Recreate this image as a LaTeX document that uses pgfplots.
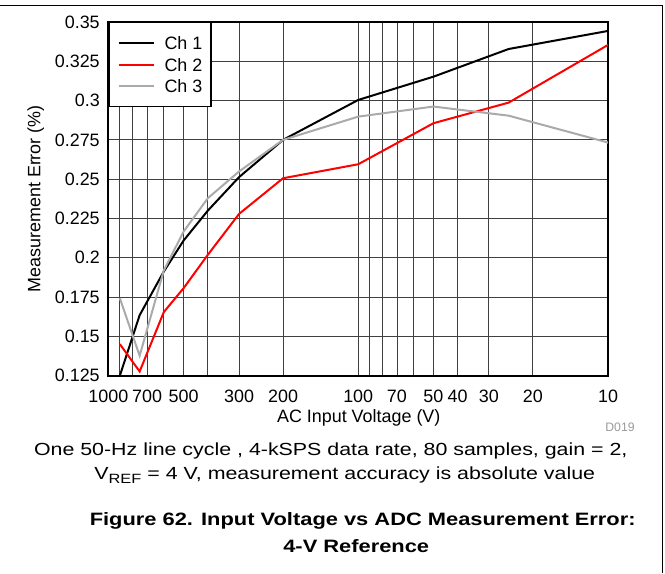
\documentclass[border=0pt]{standalone}
\usepackage{fontspec}
\setmainfont{Liberation Sans}
\newfontfamily\capfont[FakeStretch=1.22]{Liberation Sans}
\usepackage{pgfplots}
\pgfplotsset{compat=1.18}
\definecolor{chgray}{RGB}{170,170,170}
\begin{document}
\begin{tikzpicture}[x=1bp,y=1bp]
\path (0,0) rectangle (665,573);
\draw[line width=1bp] (0,567) -- (662,567) -- (662,0);
\begin{axis}[
  at={(108bp,197bp)}, anchor=south west,
  scale only axis, width=500bp, height=354bp,
  xmode=log, x dir=reverse, xmin=10, xmax=1000,
  ymin=0.125, ymax=0.35,
  xtick={1000,700,500,300,200,100,70,50,40,30,20,10},
  xticklabels={1000,700,500,300,200,100,70,50,40,30,20,10},
  minor xtick={900,800,600,400,90,80,60},
  ytick={0.125,0.15,0.175,0.2,0.225,0.25,0.275,0.3,0.325,0.35},
  yticklabels={0.125,0.15,0.175,0.2,0.225,0.25,0.275,0.3,0.325,0.35},
  grid=both,
  major grid style={black!75, line width=0.8bp},
  minor grid style={black!75, line width=0.8bp},
  major tick length=0pt, minor tick length=0pt,
  axis line style={line width=2bp},
  /pgf/number format/assume math mode=true,
  tick label style={font=\fontsize{18}{20}\selectfont},
  yticklabel style={anchor=east, inner sep=0pt, xshift=-8.5bp},
  xticklabel style={anchor=base, inner sep=0pt, yshift=-27.3bp},
  xlabel={AC Input Voltage (V)},
  ylabel={Measurement Error (\%)},
  label style={font=\fontsize{18}{20}\selectfont},
  xlabel style={at={(axis description cs:0.501,-0.1328)}, anchor=base, inner sep=0pt},
  ylabel style={at={(axis description cs:-0.136,0.5)}, anchor=base, inner sep=0pt},
  legend style={at={(axis description cs:0,1)}, anchor=north west, draw=black,
    line width=1.3bp, fill=white, font=\fontsize{18}{20}\selectfont,
    inner xsep=8.5bp, inner ysep=14bp, row sep=8.5bp,
    nodes={inner sep=0bp, text height=13bp, text depth=0bp},
    /tikz/every odd column/.append style={column sep=10bp}},
  legend cell align=left,
  legend image code/.code={\draw[#1] (0bp,0bp) -- (35bp,0bp);},
]
\addplot[black, line width=2bp] coordinates {
(900,0.125) (750,0.1635) (600,0.1913) (500,0.211) (400,0.230) (300,0.2513)
(200,0.275) (100,0.3004) (50,0.3152) (25,0.3328) (10,0.3443)};
\addlegendentry{Ch 1}
\addplot[red, line width=2bp] coordinates {
(900,0.1451) (750,0.1277) (600,0.1655) (500,0.1807) (400,0.2019) (300,0.2279)
(200,0.2506) (100,0.2595) (50,0.2856) (25,0.2987) (10,0.3354)};
\addlegendentry{Ch 2}
\addplot[chgray, line width=2bp] coordinates {
(900,0.1743) (750,0.1377) (600,0.192) (500,0.2167) (400,0.2379) (300,0.2549)
(200,0.275) (100,0.2898) (50,0.2962) (25,0.2904) (10,0.2733)};
\addlegendentry{Ch 3}
\end{axis}
\node[anchor=base, text=black!40, font=\fontsize{12.3}{14}\selectfont] at (620,141.3) {D019};
\node[anchor=base, font=\capfont\fontsize{17.6}{20}\selectfont] at (330.5,117) {One 50-Hz line cycle , 4-kSPS data rate, 80 samples, gain = 2,};
\node[anchor=base, font=\capfont\fontsize{17.6}{20}\selectfont] at (344.5,93) {V\raisebox{-4bp}{\fontsize{13.5}{14}\selectfont REF} = 4 V, measurement accuracy is absolute value};
\node[anchor=base, font=\capfont\bfseries\fontsize{18}{20}\selectfont] at (362.5,47.3) {Figure 62. Input Voltage vs ADC Measurement Error:};
\node[anchor=base, font=\capfont\bfseries\fontsize{18}{20}\selectfont] at (356,20.3) {4-V Reference};
\end{tikzpicture}
\end{document}
